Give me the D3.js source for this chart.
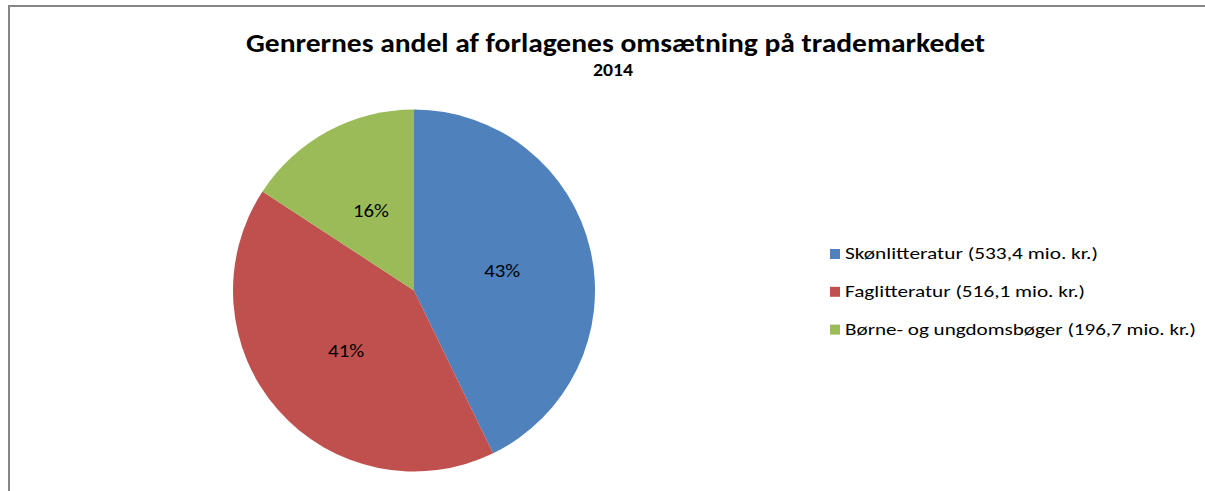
<!DOCTYPE html>
<html>
<head>
<meta charset="utf-8">
<script src="https://cdn.jsdelivr.net/npm/d3@7"></script>
<style>
  html, body { margin: 0; padding: 0; background: #fff; }
  svg { display: block; }
  text { font-family: Carlito, Calibri, Lato, "Open Sans", sans-serif; }
</style>
</head>
<body>
<svg id="chart" width="1205" height="491"></svg>
<script>
const categories = ["Skønlitteratur", "Faglitteratur", "Børne- og ungdomsbøger"];
const values = [533.4, 516.1, 196.7];
const legendLabels = [
  "Skønlitteratur (533,4 mio. kr.)",
  "Faglitteratur (516,1 mio. kr.)",
  "Børne- og ungdomsbøger (196,7 mio. kr.)"
];
const colors = ["#4F81BD", "#C0504D", "#9BBB59"];
const titleText = "Genrernes andel af forlagenes omsætning på trademarkedet";
const subtitleText = "2014";

const svg = d3.select("#chart");

// frame
svg.append("rect")
  .attr("x", 9).attr("y", 6)
  .attr("width", 1205).attr("height", 500)
  .attr("fill", "#fff")
  .attr("stroke", "#868686").attr("stroke-width", 2);

// title
svg.append("text")
  .attr("x", 615.5).attr("y", 52)
  .attr("text-anchor", "middle")
  .attr("font-weight", "bold")
  .attr("font-size", 26.5)
  .attr("textLength", 739)
  .attr("lengthAdjust", "spacingAndGlyphs")
  .attr("fill", "#000")
  .text(titleText);

svg.append("text")
  .attr("x", 613).attr("y", 75.5)
  .attr("text-anchor", "middle")
  .attr("font-weight", "bold")
  .attr("font-size", 18)
  .attr("textLength", 40)
  .attr("lengthAdjust", "spacingAndGlyphs")
  .attr("fill", "#000")
  .text(subtitleText);

// pie
const cx = 414, cy = 290.5, r = 181;
const total = d3.sum(values);
const pie = d3.pie().sort(null).value(d => d)(values);
const arc = d3.arc().innerRadius(0).outerRadius(r);
const labelArc = d3.arc().innerRadius(r * 0.5).outerRadius(r * 0.5);

const g = svg.append("g").attr("transform", `translate(${cx},${cy})`);
g.selectAll("path.slice")
  .data(pie)
  .join("path")
  .attr("class", "slice")
  .attr("d", arc)
  .attr("fill", (d, i) => colors[i])
  .attr("stroke", "none");

const fmt = d => Math.round(d.value / total * 100) + "%";
g.selectAll("text.lbl")
  .data(pie)
  .join("text")
  .attr("class", "lbl")
  .attr("transform", d => {
    const c = labelArc.centroid(d);
    return `translate(${c[0]},${c[1]})`;
  })
  .attr("text-anchor", "middle")
  .attr("dy", "0.36em")
  .attr("font-size", 18)
  .attr("textLength", 36)
  .attr("lengthAdjust", "spacingAndGlyphs")
  .attr("fill", "#000")
  .text(fmt);

// legend
const legendX = 830, legendY0 = 249, legendStep = 37.8;
const legendWidths = [253, 240, 351];
const lg = svg.append("g");
const items = lg.selectAll("g.item")
  .data(legendLabels)
  .join("g")
  .attr("class", "item")
  .attr("transform", (d, i) => `translate(${legendX},${legendY0 + i * legendStep})`);
items.append("rect")
  .attr("x", 0).attr("y", 0)
  .attr("width", 10).attr("height", 10)
  .attr("fill", (d, i) => colors[i]);
items.append("text")
  .attr("x", 15).attr("y", 10.3)
  .attr("font-size", 17)
  .attr("fill", "#000")
  .attr("textLength", (d, i) => legendWidths[i])
  .attr("lengthAdjust", "spacingAndGlyphs")
  .text(d => d);
</script>
</body>
</html>
